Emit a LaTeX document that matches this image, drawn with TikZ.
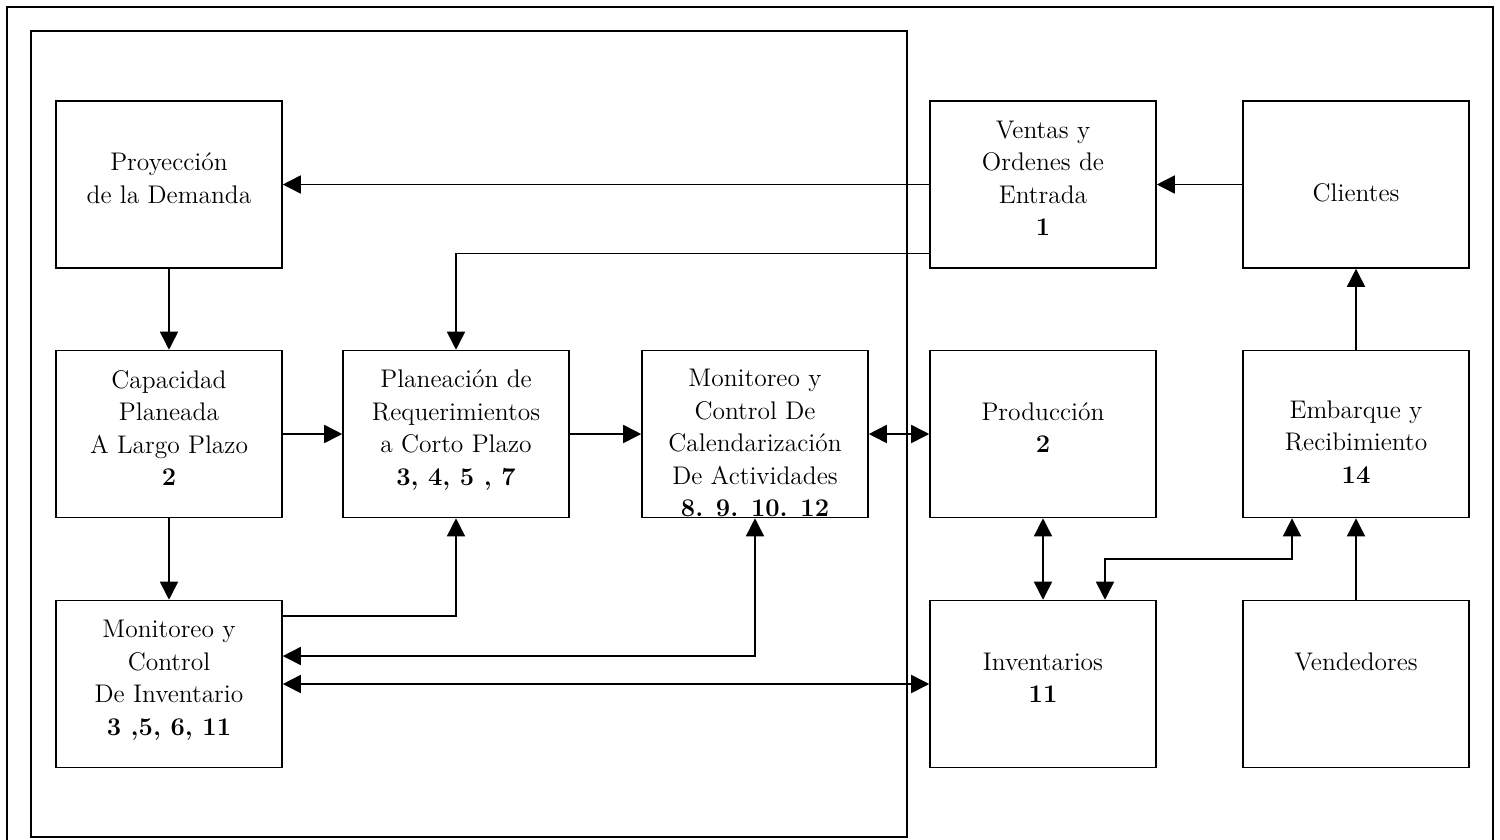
\documentclass[tikz,border=0pt]{standalone}
\usetikzlibrary{arrows.meta}
\begin{document}
\begin{tikzpicture}[x=0.02cm,y=-0.02cm]

    \tikzset{
      box/.style={
        draw,
        line width=0.9pt,
        minimum width=4.52cm,
        minimum height=3.34cm,
        inner sep=0pt,
        align=center,
        font=\fontsize{14.5}{18.5}\selectfont,
        execute at end node={\rule[-7pt]{0pt}{0pt}},
      },
      boxtext/.style={
        inner sep=0pt,
        align=center,
        font=\fontsize{14.5}{18.5}\selectfont,
      },
      arr/.style={
        line width=0.9pt,
        -{Triangle[length=0.36cm,width=0.36cm]},
      },
      dbl/.style={
        line width=0.9pt,
        {Triangle[length=0.36cm,width=0.36cm]}-{Triangle[length=0.36cm,width=0.36cm]},
      },
    }
    \useasboundingbox (0,0) rectangle (1500,839);
    \clip (0,0) rectangle (1500,839);
    % frames
    \draw[line width=1.2pt] (7,7) rectangle (1493,880);
    \draw[line width=0.9pt] (31,31) rectangle (907,837);

    % top row
    \node[box] (proy) at (169,184.5) {Proyección\\de la Demanda};
    \node[box] (ventas) at (1043,184.5) {Ventas y\\Ordenes de\\Entrada\\\textbf{1}};
    \node[box] (clientes) at (1356,184.5) {\rule{0pt}{26pt}Clientes};

    % middle row
    \node[box] (capac) at (169,434) {Capacidad\\Planeada\\A Largo Plazo\\\textbf{2}};
    \node[box] (plan) at (456,434) {Planeación de\\Requerimientos\\a Corto Plazo\\\textbf{3, 4, 5 , 7}};
    \node[box] (cal) at (755,434) {};
    \begin{scope}
      \clip (cal.south west) rectangle (cal.north east);
      \node[boxtext] (caltext) at (755,443) {Monitoreo y\\Control De\\Calendarización\\De Actividades\\\textbf{8. 9. 10. 12}};
    \end{scope}
    \node[box] (prod) at (1043,434) {Producción\\\textbf{2}};
    \node[box] (emb) at (1356,434) {\rule{0pt}{26pt}Embarque y\\Recibimiento\\\textbf{14}};

    % bottom row
    \node[box] (moninv) at (169,684) {Monitoreo y\\Control\\De Inventario\\\textbf{3 ,5, 6, 11}};
    \node[box] (inv) at (1043,684) {Inventarios\\\textbf{11}};
    \node[box] (vend) at (1356,684) {Vendedores\rule[-26pt]{0pt}{0pt}};

    % connectors
    \draw[arr] (ventas.west) -- (proy.east);
    \draw[arr] (clientes.west) -- (ventas.east);
    \draw[arr] ([yshift=-1.38cm]ventas.west) -| (plan.north);
    \draw[arr] (proy.south) -- (capac.north);
    \draw[arr] (capac.east) -- (plan.west);
    \draw[arr] (plan.east) -- (cal.west);
    \draw[dbl] (cal.east) -- (prod.west);
    \draw[arr] (capac.south) -- (moninv.north);
    \draw[arr] ([yshift=1.36cm]moninv.east) -| (plan.south);
    \draw[dbl] ([yshift=0.56cm]moninv.east) -| (cal.south);
    \draw[dbl] (moninv.east) -- (inv.west);
    \draw[dbl] (prod.south) -- (inv.north);
    \draw[dbl] ([xshift=-1.28cm]emb.south) -- ++(0,41) -| ([xshift=1.24cm]inv.north);
    \draw[arr] (vend.north) -- (emb.south);
    \draw[arr] (emb.north) -- (clientes.south);

\end{tikzpicture}
\end{document}
